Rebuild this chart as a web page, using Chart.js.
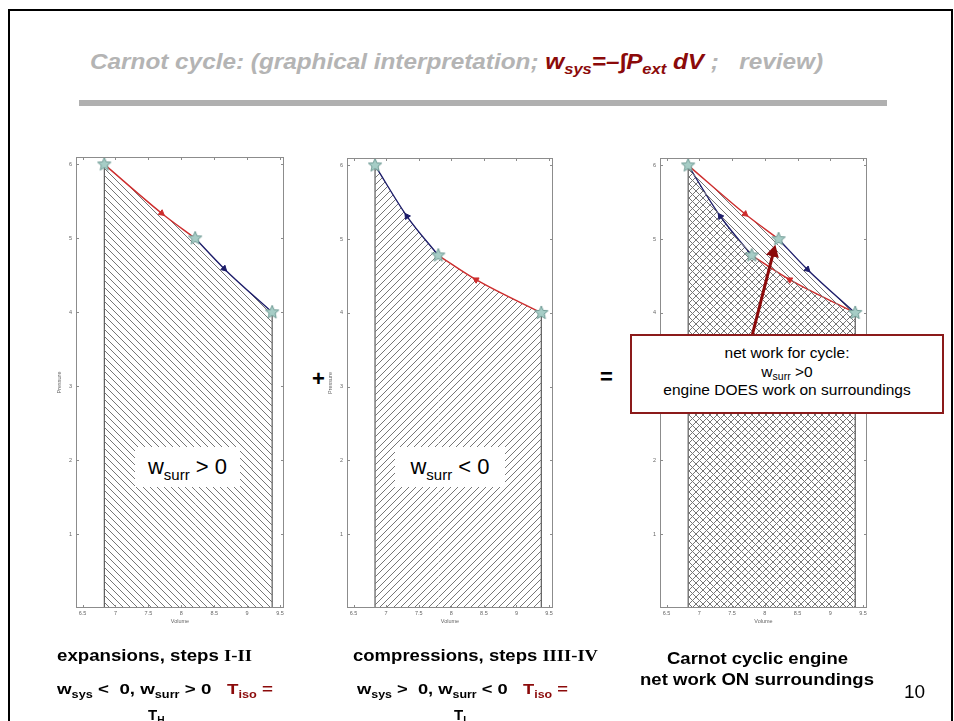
<!DOCTYPE html>
<html lang="en">
<head>
<meta charset="UTF-8">
<title>Carnot cycle | graphical interpretation</title>
<script src="https://cdn.jsdelivr.net/npm/chart.js"></script>
<style>
  body { margin: 0; width: 954px; height: 721px; overflow: hidden; background: #fff;
         position: relative; font-family: "Liberation Sans", Arial, sans-serif; }
  .frame { position: absolute; left: 8px; top: 9px; width: 941px; height: 740px; border: 2px solid #000; }
  .abs { position: absolute; white-space: nowrap; line-height: 1; transform-origin: 0 0; }
  .panel { position: absolute; }
  sub { font-size: 0.68em; vertical-align: -0.35em; line-height: 0; }
  .red { color: #8b0a0a; }
  .title { font-size: 22px; font-weight: bold; font-style: italic; color: #b4b4b4; }
  .rule { position: absolute; left: 79px; top: 100px; width: 808px; height: 6px; background: #b0b0b0; }
  .cap { font-weight: bold; color: #000; }
  .roman { font-family: "Liberation Serif", "Times New Roman", serif; }
  .wbox { position: absolute; background: #fff; font-size: 22px; text-align: center; line-height: 40px; height: 40px; }
  .wbox sub { font-size: 15px; vertical-align: -0.4em; }
  .note { position: absolute; left: 630px; top: 334px; width: 310px; height: 68px; border: 2px solid #8b1a1a;
          background: #fff; text-align: center; font-size: 15.5px; line-height: 18.5px; padding-top: 8px; box-sizing: content-box; }
  .note sub { font-size: 10.5px; vertical-align: -0.3em; }
</style>
</head>
<body>
  <div class="frame"></div>

  <div class="abs title" id="titulo" style="left:90px; top:51px;">Carnot cycle: (graphical interpretation; <span class="red">w<sub>sys</sub>=–∫P<sub>ext</sub> dV</span> ;&nbsp;&nbsp; review)</div>
  <div class="rule"></div>

  <div class="panel" style="left:56px; top:148px;"><canvas id="expChart" width="237" height="477"></canvas></div>
  <div class="panel" style="left:327px; top:149px;"><canvas id="compChart" width="235" height="476"></canvas></div>
  <div class="panel" style="left:640px; top:149px;"><canvas id="cycleChart" width="236" height="476"></canvas></div>

  <div class="wbox" style="left:135px; top:447px; width:105px;">w<sub>surr</sub> &gt; 0</div>
  <div class="wbox" style="left:395px; top:447px; width:110px;">w<sub>surr</sub> &lt; 0</div>

  <div class="abs cap" style="left:312px; top:368px; font-size:22px;">+</div>
  <div class="abs cap" style="left:600px; top:366px; font-size:22px;">=</div>

  <svg style="position:absolute; left:0; top:0;" width="954" height="721">
    <defs>
      <marker id="head" markerWidth="4" markerHeight="4.4" refX="2.2" refY="2.2" orient="auto">
        <path d="M0,0 L4,2.2 L0,4.4 z" fill="#8b0a0a"></path>
      </marker>
    </defs>
    <line x1="752" y1="336" x2="774" y2="250" stroke="#8b0a0a" stroke-width="3" marker-end="url(#head)"></line>
  </svg>

  <div class="note">net work for cycle:<br>w<sub>surr</sub> &gt;0<br>engine DOES work on surroundings</div>

  <div class="abs cap fit" data-w="195" style="left:57px; top:648px; font-size:16px;">expansions, steps <span class="roman">I-II</span></div>
  <div class="abs cap fit" data-w="216" style="left:57px; top:681px; font-size:15px;">w<sub>sys</sub> &lt;&nbsp; 0, w<sub>surr</sub> &gt; 0&nbsp;&nbsp; <span class="red">T<sub>iso</sub> =</span></div>
  <div class="abs cap red" style="left:148px; top:707px; font-size:15px;">T<sub>H</sub></div>

  <div class="abs cap fit" data-w="245" style="left:353px; top:648px; font-size:16px;">compressions, steps <span class="roman">IIII-IV</span></div>
  <div class="abs cap fit" data-w="211" style="left:357px; top:681px; font-size:15px;">w<sub>sys</sub> &gt;&nbsp; 0, w<sub>surr</sub> &lt; 0&nbsp;&nbsp; <span class="red">T<sub>iso</sub> =</span></div>
  <div class="abs cap red" style="left:454px; top:707px; font-size:15px;">T<sub>L</sub></div>

  <div class="abs cap fit" data-w="181" style="left:667px; top:651px; font-size:16px;">Carnot cyclic engine</div>
  <div class="abs cap fit" data-w="234" style="left:640px; top:672px; font-size:16px;">net work ON surroundings</div>
  <div class="abs" style="left:904px; top:682px; font-size:19px;">10</div>

<script>
  // estados do ciclo: A, B, C, D (volume, pressao)
  const stateV = [6.83, 8.21, 9.38, 7.80];
  const stateP = [6.00, 5.00, 4.00, 4.78];

  // cada etapa: inicio, seta, fim
  const hotIsoV = [6.83, 7.70, 8.21];
  const hotIsoP = [6.00, 5.34, 5.00];
  const expAdiV = [8.21, 8.65, 9.38];
  const expAdiP = [5.00, 4.59, 4.00];
  const coldIsoV = [9.38, 8.38, 7.80];
  const coldIsoP = [4.00, 4.45, 4.78];
  const compAdiV = [7.80, 7.32, 6.83];
  const compAdiP = [4.78, 5.31, 6.00];

  const xTicks = [6.5, 7, 7.5, 8, 8.5, 9, 9.5];
  const yTicks = [1, 2, 3, 4, 5, 6];

  const RED = 'rgb(205, 45, 45)';
  const BLUE = 'rgb(28, 28, 105)';

  // ajusta a largura dos textos ao slide original
  document.querySelectorAll('.fit').forEach(function (el) {
    const alvo = Number(el.dataset.w);
    el.style.transform = `scaleX(${alvo / el.getBoundingClientRect().width})`;
  });
  const titulo = document.getElementById('titulo');
  titulo.style.transform = `scaleX(${733 / titulo.getBoundingClientRect().width})`;

  function pts(vs, ps) {
    return vs.map(function (v, i) { return { x: v, y: ps[i] }; });
  }

  function hatch(dir) {
    const s = 7;
    const c = document.createElement('canvas');
    c.width = c.height = s;
    const g = c.getContext('2d');
    g.strokeStyle = '#767676';
    g.lineWidth = 1;
    g.beginPath();
    if (dir === 'back') {
      g.moveTo(-1, -1); g.lineTo(s + 1, s + 1);
      g.moveTo(-1, s - 1); g.lineTo(1, s + 1);
      g.moveTo(s - 1, -1); g.lineTo(s + 1, 1);
    } else {
      g.moveTo(-1, s + 1); g.lineTo(s + 1, -1);
      g.moveTo(-1, 1); g.lineTo(1, -1);
      g.moveTo(s - 1, s + 1); g.lineTo(s + 1, s - 1);
    }
    g.stroke();
    return g.createPattern(c, 'repeat');
  }

  function starImage(size) {
    const c = document.createElement('canvas');
    c.width = c.height = size;
    const g = c.getContext('2d');
    const r = size / 2 - 1, m = size / 2;
    g.beginPath();
    for (let i = 0; i < 10; i++) {
      const rr = i % 2 ? r * 0.45 : r;
      const a = -Math.PI / 2 + i * Math.PI / 5;
      g.lineTo(m + rr * Math.cos(a), m + rr * Math.sin(a));
    }
    g.closePath();
    g.fillStyle = '#a6cdc6';
    g.fill();
    g.strokeStyle = '#6f9a94';
    g.stroke();
    return c;
  }

  const star = starImage(16);
  const hatchBack = hatch('back');
  const hatchFwd = hatch('fwd');

  // uma etapa = curva (com hachura opcional) + seta no meio
  function step(vs, ps, color, pattern) {
    const data = pts(vs, ps);
    return [
      {
        type: 'line', data: data, borderColor: color, borderWidth: 1.4, pointRadius: 0,
        cubicInterpolationMode: 'monotone',
        fill: pattern ? 'origin' : false, backgroundColor: pattern || 'transparent', order: 2
      },
      {
        type: 'scatter', data: [data[1]], pointStyle: 'triangle', pointRadius: 3.5,
        backgroundColor: color, borderColor: color, borderWidth: 1, order: 1,
        rotation: function (ctx) {
          const x = ctx.chart.scales.x, y = ctx.chart.scales.y;
          const dx = x.getPixelForValue(data[2].x) - x.getPixelForValue(data[0].x);
          const dy = y.getPixelForValue(data[2].y) - y.getPixelForValue(data[0].y);
          return Math.atan2(dy, dx) * 180 / Math.PI + 90;
        }
      }
    ];
  }

  function edge(i) {
    return {
      type: 'line', data: [{ x: stateV[i], y: 0 }, { x: stateV[i], y: stateP[i] }],
      borderColor: '#3a3a3a', borderWidth: 1, pointRadius: 0, fill: false, order: 3
    };
  }

  function stars(idx) {
    return {
      type: 'scatter', data: idx.map(function (i) { return { x: stateV[i], y: stateP[i] }; }),
      pointStyle: star, pointRadius: 8, order: 0
    };
  }

  // caixa estilo matlab com ticks para dentro
  const matlabAxes = {
    id: 'matlabAxes',
    afterDatasetsDraw(chart) {
      const { ctx, chartArea: a, scales: { x, y } } = chart;
      ctx.save();
      ctx.strokeStyle = '#8c8c8c';
      ctx.lineWidth = 1;
      ctx.strokeRect(a.left + 0.5, a.top + 0.5, a.width - 1, a.height - 1);
      ctx.beginPath();
      x.ticks.forEach(function (t) {
        const px = Math.round(x.getPixelForValue(t.value)) + 0.5;
        ctx.moveTo(px, a.bottom); ctx.lineTo(px, a.bottom - 3);
        ctx.moveTo(px, a.top); ctx.lineTo(px, a.top + 3);
      });
      y.ticks.forEach(function (t) {
        const py = Math.round(y.getPixelForValue(t.value)) + 0.5;
        ctx.moveTo(a.left, py); ctx.lineTo(a.left + 3, py);
        ctx.moveTo(a.right, py); ctx.lineTo(a.right - 3, py);
      });
      ctx.stroke();
      ctx.restore();
    }
  };

  function plotarPainel(id, datasets) {
    const tickFont = { size: 5.5, family: 'Liberation Sans' };
    new Chart(document.getElementById(id), {
      type: 'line',
      data: { datasets: datasets },
      options: {
        responsive: false,
        animation: false,
        layout: { padding: { top: 4, right: 6, left: 0, bottom: 0 } },
        plugins: { legend: { display: false }, tooltip: { enabled: false } },
        scales: {
          x: {
            type: 'linear', min: 6.4, max: 9.56,
            afterBuildTicks: function (s) { s.ticks = xTicks.map(function (v) { return { value: v }; }); },
            afterFit: function (s) { s.height = 17; },
            grid: { display: false, drawTicks: false }, border: { display: false },
            ticks: {
              font: tickFont, color: '#666', padding: 2, maxRotation: 0, autoSkip: false,
              callback: function (v) { return String(v); }
            },
            title: { display: true, text: 'Volume', font: tickFont, color: '#666', padding: 0 }
          },
          y: {
            type: 'linear', min: 0, max: 6.1,
            afterBuildTicks: function (s) { s.ticks = yTicks.map(function (v) { return { value: v }; }); },
            afterFit: function (s) { s.width = 20; },
            grid: { display: false, drawTicks: false }, border: { display: false },
            ticks: {
              font: tickFont, color: '#666', padding: 4, autoSkip: false,
              callback: function (v) { return String(v); }
            },
            title: { display: true, text: 'Pressure', font: tickFont, color: '#666', padding: 0 }
          }
        }
      },
      plugins: [matlabAxes]
    });
  }

  window.onload = function () {
    plotarPainel('expChart', [
      ...step(hotIsoV, hotIsoP, RED, hatchBack),
      ...step(expAdiV, expAdiP, BLUE, hatchBack),
      edge(0), edge(2), stars([0, 1, 2])
    ]);
    plotarPainel('compChart', [
      ...step(coldIsoV, coldIsoP, RED, hatchFwd),
      ...step(compAdiV, compAdiP, BLUE, hatchFwd),
      edge(0), edge(2), stars([0, 3, 2])
    ]);
    plotarPainel('cycleChart', [
      ...step(hotIsoV, hotIsoP, RED, hatchBack),
      ...step(expAdiV, expAdiP, BLUE, hatchBack),
      ...step(coldIsoV, coldIsoP, RED, hatchFwd),
      ...step(compAdiV, compAdiP, BLUE, hatchFwd),
      edge(0), edge(2), stars([0, 1, 2, 3])
    ]);
  };
</script>
</body>
</html>
